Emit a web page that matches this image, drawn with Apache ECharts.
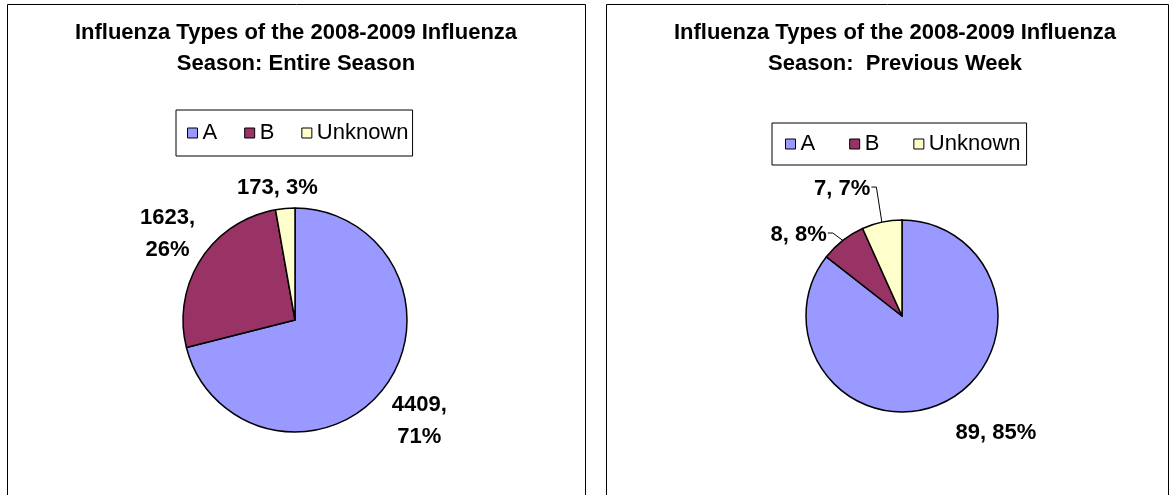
<!DOCTYPE html>
<html>
<head>
<meta charset="utf-8">
<script src="https://cdn.jsdelivr.net/npm/echarts@6/dist/echarts.min.js"></script>
<style>
  html, body { margin: 0; padding: 0; background: #fff; }
  #chart { width: 1176px; height: 495px; }
</style>
</head>
<body>
<div id="chart"></div>
<script>
const typeNames = ['A', 'B', 'Unknown']
const seasonCounts = [4409, 1623, 173]
const weekCounts = [89, 8, 7]
const typeColors = ['#9999ff', '#993366', '#ffffcc']

const FONT = '"Liberation Sans", Arial, sans-serif'

// pie placement in px
const leftPie = { center: [295, 320], r: 112 }
const rightPie = { center: [902, 316], r: 96 }

// label centre = distance along the slice mid angle, plus a small nudge [dist, dx, dy]
const leftLabelPos = [[160, -2, 3], [153, 1, -3], [133, -6, 0]]
const rightLabelPos = [[146, 30, -14], [127, -25, 19], [137, -31, 7]]
const leftWrap = [true, true, false]
const rightWrap = [false, false, false]
const rightLeaders = [false, true, true]

function makeLabelLayout(pie, counts, pos, leaders) {
  const total = counts.reduce((a, b) => a + b, 0)
  return function (params) {
    const i = params.dataIndex
    let before = 0
    for (let k = 0; k < i; k++) before += counts[k]
    const t = 2 * Math.PI * (before + counts[i] / 2) / total
    const dx = Math.sin(t)
    const dy = -Math.cos(t)
    const [dist, nx, ny] = pos[i]
    const x = pie.center[0] + dx * dist + nx
    const y = pie.center[1] + dy * dist + ny
    const out = { x: x, y: y, align: 'center', verticalAlign: 'middle' }
    if (leaders[i]) {
      const edge = [pie.center[0] + dx * pie.r, pie.center[1] + dy * pie.r]
      const end = x + params.labelRect.width / 2 + 1
      out.labelLinePoints = [edge, [end + 5, y - 2], [end, y - 2]]
    }
    return out
  }
}

function makeFormatter(wrap) {
  return (p) => `${p.value},${wrap[p.dataIndex] ? '\n' : ' '}${p.percent}%`
}

function pieData(counts, leaders) {
  return typeNames.map((name, i) => {
    const item = { name: name, value: counts[i] }
    if (leaders && !leaders[i]) item.labelLine = { show: false }
    return item
  })
}

const legendBase = {
  data: typeNames,
  orient: 'horizontal',
  icon: 'rect',
  itemWidth: 10,
  itemHeight: 10,
  borderColor: '#000',
  borderWidth: 1,
  selectedMode: false,
  itemStyle: { borderColor: '#000', borderWidth: 1 },
  textStyle: { fontFamily: FONT, fontSize: 22, color: '#000' },
}

const titleText = {
  fontFamily: FONT,
  fontSize: 22,
  fontWeight: 'bold',
  lineHeight: 31,
  color: '#000',
}

const labelBase = {
  show: true,
  position: 'outside',
  fontFamily: FONT,
  fontSize: 22,
  fontWeight: 'bold',
  lineHeight: 32,
  color: '#000',
}

const chart = echarts.init(document.getElementById('chart'), null, { renderer: 'canvas' })

chart.setOption({
  backgroundColor: '#fff',
  animation: false,
  color: typeColors,
  graphic: [
    {
      type: 'rect',
      shape: { x: 7.5, y: 4.5, width: 578, height: 560 },
      style: { fill: 'none', stroke: '#000', lineWidth: 1 },
      silent: true,
    },
    {
      type: 'rect',
      shape: { x: 606.5, y: 4.5, width: 562, height: 560 },
      style: { fill: 'none', stroke: '#000', lineWidth: 1 },
      silent: true,
    },
  ],
  title: [
    {
      text: 'Influenza Types of the 2008-2009 Influenza\nSeason: Entire Season',
      left: 296,
      top: 17,
      padding: 0,
      textAlign: 'center',
      textStyle: titleText,
    },
    {
      text: 'Influenza Types of the 2008-2009 Influenza\nSeason:  Previous Week',
      left: 895,
      top: 17,
      padding: 0,
      textAlign: 'center',
      textStyle: titleText,
    },
  ],
  legend: [
    Object.assign({}, legendBase, { left: 176, top: 110, padding: [12, 4, 12, 11], itemGap: 27 }),
    Object.assign({}, legendBase, { left: 772, top: 123, padding: [10, 6, 10, 13], itemGap: 34 }),
  ],
  series: [
    {
      name: 'Entire Season',
      type: 'pie',
      center: leftPie.center,
      radius: leftPie.r,
      startAngle: 90,
      clockwise: true,
      percentPrecision: 0,
      avoidLabelOverlap: false,
      emphasis: { disabled: true },
      itemStyle: { borderColor: '#000', borderWidth: 1.5 },
      label: Object.assign({}, labelBase, { formatter: makeFormatter(leftWrap) }),
      labelLine: { show: false },
      labelLayout: makeLabelLayout(leftPie, seasonCounts, leftLabelPos, [false, false, false]),
      data: pieData(seasonCounts),
    },
    {
      name: 'Previous Week',
      type: 'pie',
      center: rightPie.center,
      radius: rightPie.r,
      startAngle: 90,
      clockwise: true,
      percentPrecision: 0,
      avoidLabelOverlap: false,
      emphasis: { disabled: true },
      itemStyle: { borderColor: '#000', borderWidth: 1.5 },
      label: Object.assign({}, labelBase, { formatter: makeFormatter(rightWrap) }),
      labelLine: { show: true, lineStyle: { color: '#000', width: 1 } },
      labelLayout: makeLabelLayout(rightPie, weekCounts, rightLabelPos, rightLeaders),
      data: pieData(weekCounts, rightLeaders),
    },
  ],
})

window.addEventListener('resize', () => chart.resize())
</script>
</body>
</html>
